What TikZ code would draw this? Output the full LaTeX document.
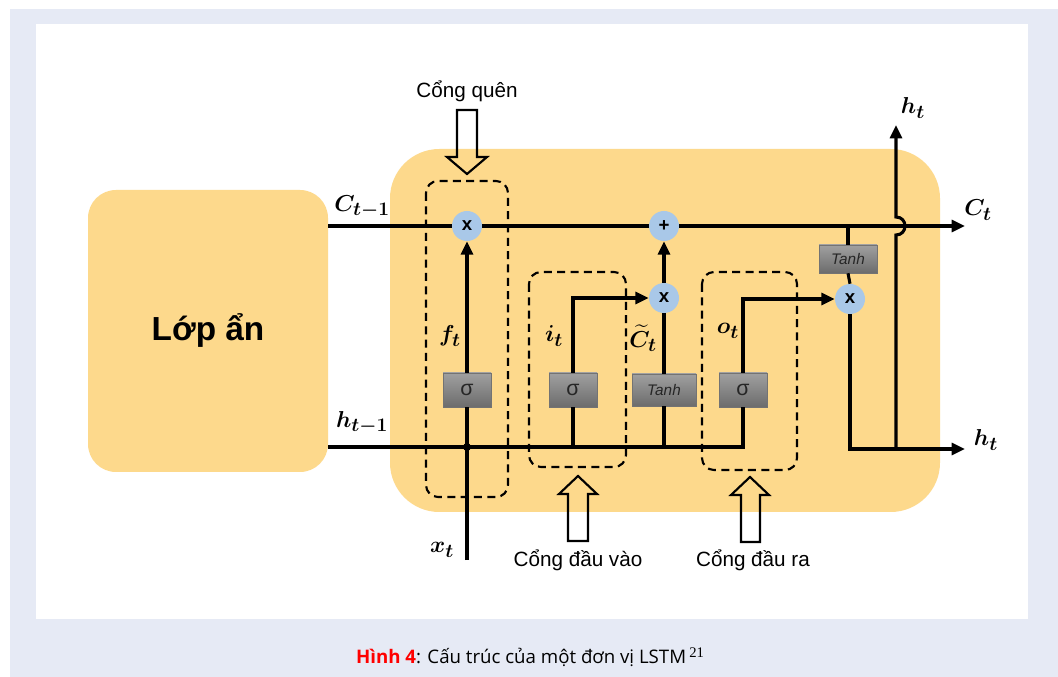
\documentclass[tikz,border=0pt]{standalone}
\usepackage{fontspec}
\setmainfont{Liberation Sans}
\newfontfamily\capfont{Open Sans}
\newfontfamily\supfont{Liberation Serif}
\usepackage{amsmath}
\usepackage{bm}
\usetikzlibrary{arrows.meta}
\definecolor{lav}{HTML}{E6EAF5}
\definecolor{cellc}{HTML}{FDD98C}
\definecolor{opc}{HTML}{A9C8E8}
\definecolor{gtop}{HTML}{A0A0A0}
\definecolor{gbot}{HTML}{6C6C6C}
\definecolor{capred}{HTML}{FF0000}
\tikzset{
  wire/.style={line width=2.3pt},
  arrw/.style={line width=2.3pt,-{Triangle[length=10pt,width=9pt]}},
  opnode/.style={circle,fill=opc,minimum size=22.5pt,inner sep=0pt,font=\fontsize{14}{14}\selectfont\bfseries},
  sigbox/.style={rectangle,draw=black!55,line width=0.4pt,top color=gtop,bottom color=gbot,minimum width=36pt,minimum height=25.5pt,inner sep=0pt,font=\fontsize{16}{16}\selectfont\color{black!85}},
  tanhbox/.style={sigbox,minimum width=48pt,minimum height=24pt,font=\fontsize{11.5}{11.5}\selectfont\itshape\color{black!85}},
  gatebox/.style={draw,line width=1.6pt,dash pattern=on 6pt off 4pt,rounded corners=9pt},
  hollow/.style={draw,line width=1.6pt,line join=miter},
  glabel/.style={font=\fontsize{15.5}{15.5}\selectfont},
  mlabel/.style={font=\fontsize{19}{19}\selectfont,inner sep=0pt},
}
\begin{document}
\begin{tikzpicture}[x=0.75pt,y=-0.75pt]
\useasboundingbox (0,0) rectangle (1058,677);
% backgrounds
\fill[white] (0,0) rectangle (1058,677);
\fill[lav] (10,9) rectangle (1058,677);
\fill[white] (36,24) rectangle (1028,619);
% boxes
\node[fill=cellc,rounded corners=21pt,minimum width=180pt,minimum height=211.5pt,inner sep=0pt] (lop) at (208,331) {};
\node[font=\fontsize{25}{25}\selectfont\bfseries] (loptext) at (208,331) {Lớp ẩn};
\node[fill=cellc,rounded corners=37pt,minimum width=412.5pt,minimum height=272.25pt,inner sep=0pt] (cell) at (665,330.5) {};
% gate boxes
\draw[gatebox] (426,181) rectangle (508,497);
\draw[gatebox] (529,272) rectangle (626,467);
\draw[gatebox] (702,272) rectangle (797,470);
% operation nodes
\node[opnode] (fx) at (467,226) {x};
\node[opnode] (plus) at (664,226) {+};
\node[opnode] (ix) at (664,298) {x};
\node[opnode] (ox) at (850,299) {x};
\node[sigbox] (fsig) at (467,390) {σ};
\node[sigbox] (isig) at (573,390) {σ};
\node[tanhbox] (ctanh) at (664,390) {Tanh};
\node[sigbox] (osig) at (743,390) {σ};
\node[tanhbox,minimum width=43.5pt,minimum height=21pt] (otanh) at (848,259) {Tanh};
% coordinates
\coordinate (cin) at (328,226);
\coordinate (cout) at (965,226);
\coordinate (hin) at (328,447);
\coordinate (xin) at (467,560);
\coordinate (jf) at (467,447);
\coordinate (ji) at (573,447);
\coordinate (jc) at (664,447);
\coordinate (jo) at (743,447);
\coordinate (jt) at (848,226);
\coordinate (hup) at (896,449);
\coordinate (hupa) at (896,235);
\coordinate (hupb) at (896,217);
\coordinate (hupend) at (896,125);
\coordinate (hout) at (965,449);
% cell state line
\draw[wire] (cin) -- (fx);
\draw[wire] (fx) -- (plus);
\draw[arrw] (plus) -- (cout);
% hidden line
\draw[wire] (hin) -- (jo) -- (osig.south);
% forget gate
\draw[wire] (xin) -- (fsig.south);
\draw[arrw] (fsig.north) -- (fx.south);
\fill (jf) circle[radius=4];
% input gate
\draw[wire] (ji) -- (isig.south);
\draw[arrw] (isig.north) |- (ix.west);
% candidate
\draw[wire] (jc) -- (ctanh.south);
\draw[wire] (ctanh.north) -- (ix.south);
\draw[arrw] (ix.north) -- (plus.south);
% output gate
\draw[arrw] (osig.north) |- (ox.west);
\draw[wire] (jt) -- (otanh.north);
\draw[wire] (otanh.south) -- (ox.north);
\draw[arrw] (ox.south) |- (hout);
\draw[arrw] (hup) -- (hupa) .. controls (908,235) and (908,217) .. (hupb) -- (hupend);
% hollow arrows
\draw[hollow] (457,110) -- (477,110) -- (477,157) -- (487,157) -- (467,174) -- (447,157) -- (457,157) -- cycle;
\draw[hollow] (568,541) -- (588,541) -- (588,494) -- (597,494) -- (578,476) -- (559,494) -- (568,494) -- cycle;
\draw[hollow] (741,542) -- (760,542) -- (760,495) -- (769,495) -- (750,477) -- (731,495) -- (741,495) -- cycle;
% gate labels
\node[glabel] (lq) at (467,91) {Cổng quên};
\node[glabel] (lv) at (578,560) {Cổng đầu vào};
\node[glabel] (lr) at (753,560) {Cổng đầu ra};
% math labels
\node[mlabel] (lcm) at (362,207) {$\bm{C_{t-1}}$};
\node[mlabel] (lhm) at (362,423) {$\bm{h_{t-1}}$};
\node[mlabel] (lct) at (978,210) {$\bm{C_t}$};
\node[mlabel] (lht1) at (913,108) {$\bm{h_t}$};
\node[mlabel] (lht2) at (986,440) {$\bm{h_t}$};
\node[mlabel] (lxt) at (442,550) {$\bm{x_t}$};
\node[mlabel] (lft) at (450,336) {$\bm{f_t}$};
\node[mlabel] (lit) at (554,336) {$\bm{i_t}$};
\node[mlabel] (lctl) at (643,338) {$\bm{\widetilde{C}_t}$};
\node[mlabel] (lot) at (728,331) {$\bm{o_t}$};
% caption
\node[font=\capfont\fontsize{14}{14}\selectfont] (cap) at (530,657) {\textcolor{capred}{\bfseries Hình 4}: Cấu trúc của một đơn vị LSTM\,\raisebox{0.55ex}{\supfont\fontsize{11}{11}\selectfont 21}};
\end{tikzpicture}
\end{document}
